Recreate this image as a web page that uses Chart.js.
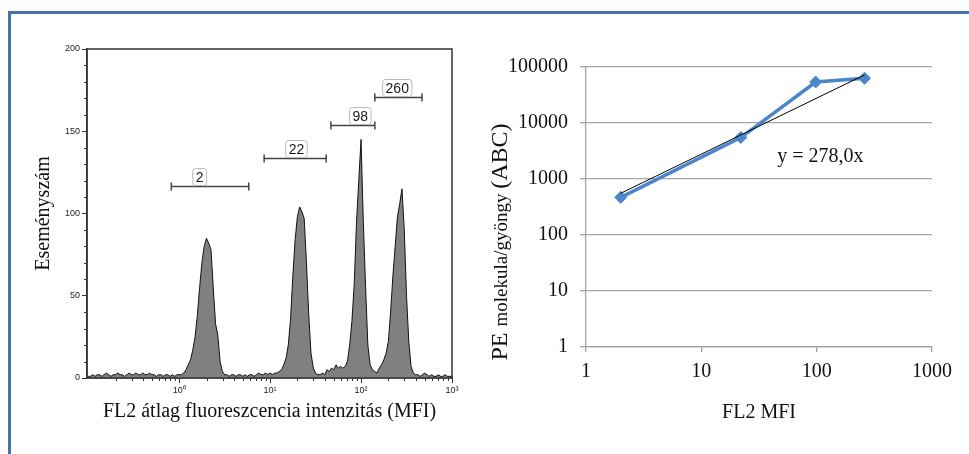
<!DOCTYPE html>
<html lang="hu">
<head>
<meta charset="UTF-8">
<title>FL2 MFI kalibráció</title>
<script src="https://cdn.jsdelivr.net/npm/chart.js"></script>
<style>
  body { margin: 0; background: #fff; }
  #frame { position: absolute; left: 8px; top: 11px; width: 980px; height: 460px;
           border-top: 3px solid #4472ae; border-left: 3px solid #4472ae; }
  #hist { position: absolute; left: 0; top: 0; }
  #calib { position: absolute; left: 480px; top: 0; }
</style>
</head>
<body>
<div id="frame"></div>
<canvas id="hist" width="480" height="454"></canvas>
<canvas id="calib" width="489" height="454"></canvas>

<script>
// histogram: counts per bin, bins start at log10 = -1, 0.025 decade wide
const histStartLog = -1;
const histStepLog = 0.025;
const histCounts = [
  1,1,2,1,2,2,1,2,3,2, 1,2,2,3,2,2,1,2,3,2, 2,3,2,2,3,2,2,3,2,2, 1,2,2,1,2,2,1,2,1,2, 2,
  2,3,5,8,11,17,25,38,55,70, 80,85,82,78,55,33,26,10,4,2,
  2,1,2,2,1,2,2,1,2,1, 2,2,1,2,3,2,2,3,2,3, 2,3,3,4,
  5,8,12,20,36,62,84,98,104,101, 97,70,38,15,6,3,
  2,2,3,2,5,4,6,5,8,6, 7,6,
  7,10,20,35,57,95,120,145,95,55, 20,8,5,4,
  3,6,8,11,15,22,40,62,80,98, 106,115,90,50,22,7,3,
  2,2,1,2,3,2,1,2,1,1, 2,1,1,2,1,1,1
];

// gates (markers) on the histogram
const gateLabels = ['2', '22', '98', '260'];
const gateLo = [0.82, 8.6, 46.6, 141.7];
const gateHi = [5.83, 41.4, 141.7, 468];
const gateLevel = [117, 134, 154, 171];
const gateLabelAt = [1.68, 19.5, 98, 250];

const histXTicks = [1, 10, 100, 1000];
const histXTickLabels = ['10\u2070', '10\u00b9', '10\u00b2', '10\u00b3'];

// calibration curve
const mfiValues = [2, 22, 98, 260];
const abcValues = [470, 5500, 54000, 63000];
const trendSlope = 278.0;
const trendX = [2, 260];
const calibXTicks = [1, 10, 100, 1000];
const calibYTicks = [1, 10, 100, 1000, 10000, 100000];

const SERIF = "'Liberation Serif', 'Times New Roman', serif";
const SANS = "'Liberation Sans', Arial, sans-serif";

const histPoints = histCounts.map((c, i) => ({ x: Math.pow(10, histStartLog + i * histStepLog), y: c }));

// frame, minor ticks and gates for the histogram
const histExtras = {
  id: 'histExtras',
  afterDraw(chart) {
    const ctx = chart.ctx;
    const a = chart.chartArea;
    const xs = chart.scales.x, ys = chart.scales.y;
    ctx.save();
    ctx.strokeStyle = '#333';
    ctx.lineWidth = 1.5;
    ctx.strokeRect(a.left, a.top, a.right - a.left, a.bottom - a.top);

    ctx.lineWidth = 1;
    ctx.beginPath();
    for (let v = 10; v < 200; v += 10) {
      if (v % 50 === 0) continue;
      const y = Math.round(ys.getPixelForValue(v)) + 0.5;
      ctx.moveTo(a.left - 3, y); ctx.lineTo(a.left, y);
    }
    [0.1, 1, 10, 100].forEach(d => {
      for (let m = 2; m <= 9; m++) {
        const v = m * d;
        if (v < xs.min || v > xs.max) continue;
        const x = Math.round(xs.getPixelForValue(v)) + 0.5;
        ctx.moveTo(x, a.bottom); ctx.lineTo(x, a.bottom + 3);
      }
    });
    ctx.stroke();

    gateLabels.forEach((lab, i) => {
      const x1 = xs.getPixelForValue(gateLo[i]);
      const x2 = xs.getPixelForValue(gateHi[i]);
      const y = Math.round(ys.getPixelForValue(gateLevel[i])) + 0.5;
      ctx.strokeStyle = '#444';
      ctx.lineWidth = 1.5;
      ctx.beginPath();
      ctx.moveTo(x1, y); ctx.lineTo(x2, y);
      ctx.moveTo(x1, y - 4); ctx.lineTo(x1, y + 4);
      ctx.moveTo(x2, y - 4); ctx.lineTo(x2, y + 4);
      ctx.stroke();

      ctx.font = '14px ' + SANS;
      const w = ctx.measureText(lab).width + 6;
      const h = 17;
      const cx = xs.getPixelForValue(gateLabelAt[i]);
      const bx = cx - w / 2, by = y - h - 1;
      ctx.fillStyle = '#fff';
      ctx.strokeStyle = '#bbb';
      ctx.lineWidth = 1;
      ctx.beginPath();
      ctx.roundRect(bx, by, w, h, 3);
      ctx.fill();
      ctx.stroke();
      ctx.fillStyle = '#1a1a1a';
      ctx.textAlign = 'center';
      ctx.textBaseline = 'middle';
      ctx.fillText(lab, cx, by + h / 2 + 1);
    });
    ctx.restore();
  }
};

new Chart(document.getElementById('hist'), {
  type: 'line',
  data: {
    datasets: [{
      data: histPoints,
      fill: 'origin',
      backgroundColor: '#808080',
      borderColor: '#111',
      borderWidth: 1,
      pointRadius: 0,
      tension: 0
    }]
  },
  options: {
    responsive: false,
    animation: false,
    devicePixelRatio: 1,
    layout: { padding: { left: 0, top: 49, right: 28, bottom: 0 } },
    plugins: { legend: { display: false }, tooltip: { enabled: false } },
    scales: {
      x: {
        type: 'logarithmic',
        min: 0.097,
        max: 1000,
        afterBuildTicks: s => { s.ticks = histXTicks.map(v => ({ value: v })); },
        afterFit: s => { s.height = 76; },
        grid: { drawOnChartArea: false, tickLength: 5, color: '#333' },
        border: { color: '#333', width: 1.5 },
        ticks: {
          font: { family: SANS, size: 9 },
          color: '#222',
          padding: 2,
          maxRotation: 0,
          callback: v => histXTickLabels[histXTicks.indexOf(v)]
        },
        title: {
          display: true,
          text: 'FL2 átlag fluoreszcencia intenzitás (MFI)',
          font: { family: SERIF, size: 20 },
          color: '#111',
          padding: { top: 0, bottom: 30 }
        }
      },
      y: {
        min: 0,
        max: 200,
        afterFit: s => { s.width = 87; },
        grid: { drawOnChartArea: false, tickLength: 5, color: '#333' },
        border: { color: '#333', width: 1.5 },
        ticks: { stepSize: 50, font: { family: SANS, size: 9 }, color: '#222', padding: 2 },
        title: {
          display: true,
          text: 'Eseményszám',
          font: { family: SERIF, size: 20 },
          color: '#111',
          padding: { top: 32, bottom: 0 }
        }
      }
    }
  },
  plugins: [histExtras]
});

// mixed-size y title and equation label for the calibration chart
const calibExtras = {
  id: 'calibExtras',
  afterDraw(chart) {
    const ctx = chart.ctx;
    const xs = chart.scales.x, ys = chart.scales.y;
    ctx.save();
    ctx.fillStyle = '#111';
    ctx.font = '20px ' + SERIF;
    ctx.textAlign = 'left';
    ctx.textBaseline = 'middle';
    ctx.fillText('y = 278,0x', xs.getPixelForValue(45.5), ys.getPixelForValue(2540));

    const parts = [['PE ', 24], ['molekula/gyöngy ', 19], ['(ABC)', 24]];
    let total = 0;
    parts.forEach(p => { ctx.font = p[1] + 'px ' + SERIF; p.push(ctx.measureText(p[0]).width); total += p[2]; });
    ctx.translate(19, 242);
    ctx.rotate(-Math.PI / 2);
    ctx.textBaseline = 'alphabetic';
    let x = -total / 2;
    parts.forEach(p => {
      ctx.font = p[1] + 'px ' + SERIF;
      ctx.fillText(p[0], x, 8);
      x += p[2];
    });
    ctx.restore();
  }
};

new Chart(document.getElementById('calib'), {
  type: 'line',
  data: {
    datasets: [
      {
        data: trendX.map(x => ({ x: x, y: trendSlope * x })),
        borderColor: '#000',
        borderWidth: 1,
        pointRadius: 0
      },
      {
        data: mfiValues.map((x, i) => ({ x: x, y: abcValues[i] })),
        borderColor: '#4a86c8',
        backgroundColor: '#4a86c8',
        borderWidth: 3.5,
        pointStyle: 'rectRot',
        pointRadius: 6,
        pointBorderWidth: 1
      }
    ]
  },
  options: {
    responsive: false,
    animation: false,
    devicePixelRatio: 1,
    layout: { padding: { left: 0, top: 67, right: 37, bottom: 0 } },
    plugins: { legend: { display: false }, tooltip: { enabled: false } },
    scales: {
      x: {
        type: 'logarithmic',
        min: 1,
        max: 1000,
        afterBuildTicks: s => { s.ticks = calibXTicks.map(v => ({ value: v })); },
        afterFit: s => { s.height = 107; },
        grid: { drawOnChartArea: false, tickLength: 5, color: '#a0a0a0', lineWidth: 1.3 },
        border: { color: '#a0a0a0', width: 1.3 },
        ticks: { font: { family: SERIF, size: 20 }, color: '#111', padding: 8, maxRotation: 0, callback: v => String(v) },
        title: {
          display: true,
          text: 'FL2 MFI',
          font: { family: SERIF, size: 20 },
          color: '#111',
          padding: { top: 0, bottom: 29 }
        }
      },
      y: {
        type: 'logarithmic',
        min: 1,
        max: 100000,
        afterBuildTicks: s => { s.ticks = calibYTicks.map(v => ({ value: v })); },
        afterFit: s => { s.width = 106; },
        grid: { tickLength: 6, color: '#a6a6a6', lineWidth: 1.3 },
        border: { color: '#a0a0a0', width: 1.3 },
        ticks: { font: { family: SERIF, size: 20 }, color: '#111', padding: 12, callback: v => String(v) }
      }
    }
  },
  plugins: [calibExtras]
});
</script>
</body>
</html>
